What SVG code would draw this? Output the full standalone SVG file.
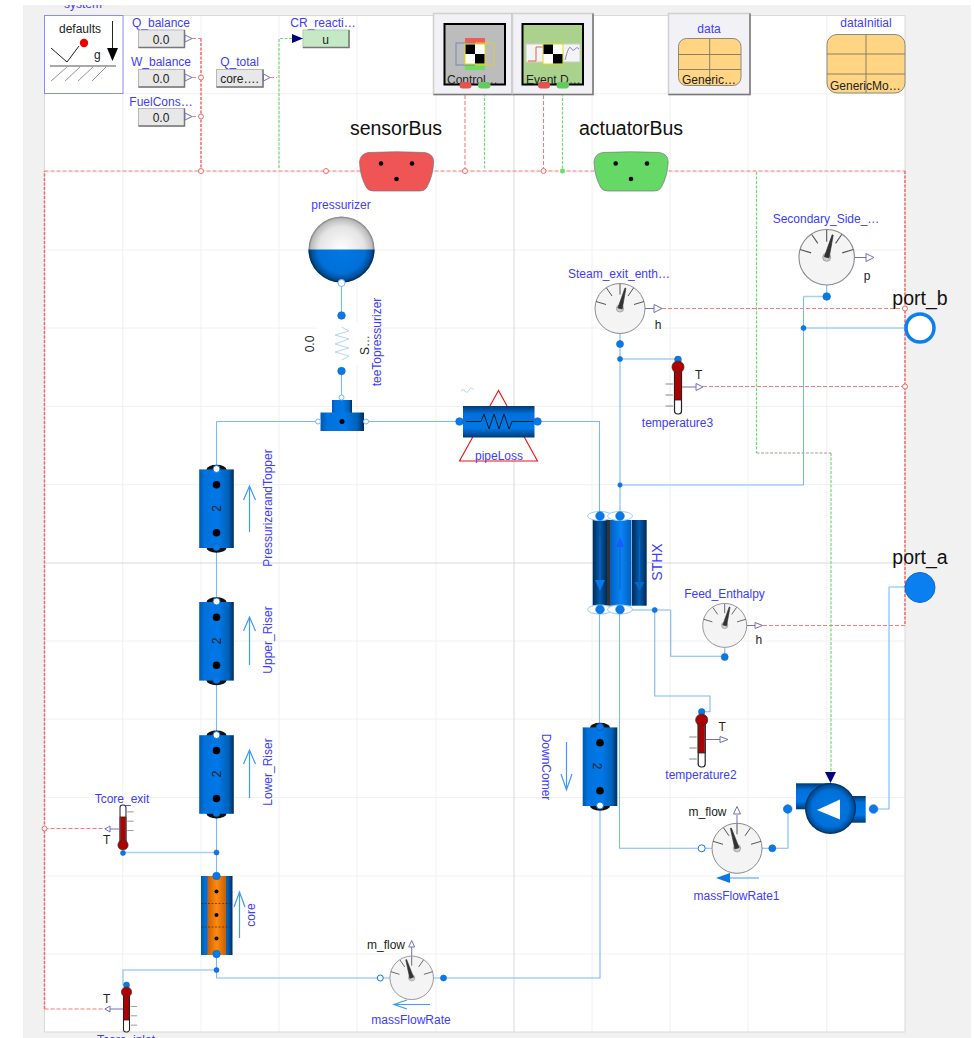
<svg xmlns="http://www.w3.org/2000/svg" xmlns:xlink="http://www.w3.org/1999/xlink" width="974" height="1038" viewBox="0 0 974 1038">
<style>
text{font-family:"Liberation Sans",Arial,sans-serif;font-size:12px;fill:#222}
.n{fill:#3c3cff;text-anchor:middle}
.m{text-anchor:middle}
.big{font-size:19.5px;fill:#111;text-anchor:middle}
.grid{stroke:#f0f0f0;stroke-width:1;fill:none}
.gridd{stroke:#d9d9d9;stroke-width:1;fill:none}
.w{stroke:#7cb8f8;stroke-width:1.1;fill:none}
.wt{stroke:#a6d0fa;stroke-width:1.6;fill:none}
.r{stroke:#f47c7c;stroke-width:1.1;stroke-dasharray:4 2;fill:none}
.rb{stroke:#f26a6a;stroke-width:1.5;stroke-dasharray:3 1.5;fill:none}
.g{stroke:#6fdc6f;stroke-width:1.2;stroke-dasharray:3 1.5;fill:none}
.rc{fill:#fff;stroke:#f26a6a;stroke-width:1}
.pb{fill:#0a78e6;stroke:#0a68c8;stroke-width:.6}
.pw{fill:#fff;stroke:#0a78e6;stroke-width:1}
.sig{stroke:#7070b8;stroke-width:1;fill:none}
.tri{fill:#fff;stroke:#7070b8;stroke-width:1}
.box{fill:#e8e8e8;stroke:#b8b8b8;stroke-width:1}
.sh{fill:none;stroke:#777;stroke-width:1.5}
.frame{fill:#f1f1f6;stroke:#d0d0d0;stroke-width:1.5}
.flow{stroke:#3f9bf5;stroke-width:1.2;fill:none}
.tbl{fill:#ffd583;stroke:#8a8a80;stroke-width:1}
.tline{stroke:#8a7f68;stroke-width:1;fill:none}
</style>
<defs>
<linearGradient id="pipeG" x1="0" x2="1" y1="0" y2="0"><stop offset="0" stop-color="#0058ac"/><stop offset=".15" stop-color="#0072dc"/><stop offset=".55" stop-color="#0078e8"/><stop offset=".85" stop-color="#0060b8"/><stop offset="1" stop-color="#002c5c"/></linearGradient>
<linearGradient id="horG" x1="0" x2="0" y1="0" y2="1"><stop offset="0" stop-color="#003a74"/><stop offset=".25" stop-color="#0070dc"/><stop offset=".7" stop-color="#0078e8"/><stop offset="1" stop-color="#003a74"/></linearGradient>
<linearGradient id="darkG" x1="0" x2="1" y1="0" y2="0"><stop offset="0" stop-color="#002a55"/><stop offset=".5" stop-color="#005cb0"/><stop offset="1" stop-color="#002a55"/></linearGradient>
<linearGradient id="midG" x1="0" x2="1" y1="0" y2="0"><stop offset="0" stop-color="#0060c0"/><stop offset=".5" stop-color="#0a84f5"/><stop offset="1" stop-color="#0060c0"/></linearGradient>
<linearGradient id="orG" x1="0" x2="1" y1="0" y2="0"><stop offset="0" stop-color="#c86000"/><stop offset=".5" stop-color="#ff8a10"/><stop offset="1" stop-color="#c86000"/></linearGradient>
<radialGradient id="topG" cx=".5" cy=".5" r=".5"><stop offset="0" stop-color="#fff"/><stop offset=".7" stop-color="#e4e4e4"/><stop offset=".93" stop-color="#bbb"/><stop offset="1" stop-color="#777"/></radialGradient>
<radialGradient id="botG" cx=".5" cy=".5" r=".5"><stop offset="0" stop-color="#0078e4"/><stop offset=".72" stop-color="#0070d8"/><stop offset=".92" stop-color="#004c94"/><stop offset="1" stop-color="#00284f"/></radialGradient>
<clipPath id="lowerHalf"><rect x="300" y="249.500" width="84" height="40"/></clipPath>
<g id="pipe">
<ellipse cx="0" cy="-39" rx="10" ry="5" fill="#111"/>
<ellipse cx="0" cy="39" rx="10" ry="5" fill="#111"/>
<rect x="-17.3" y="-39.3" width="34.6" height="78.6" fill="url(#pipeG)"/>
<circle cx="0" cy="-24" r="3.8" fill="#000"/>
<circle cx="0" cy="24" r="3.8" fill="#000"/>
</g>
<g id="gauge">
<circle r="25" fill="#f4f4f4" stroke="#8a8a8a" stroke-width="1"/>
<g stroke="#555" stroke-width="1"><path d="M0-24.5V-14M-13.5-20.5L-8-12.5M13.5-20.5L8-12.5M-24-7L-14-4M24-7L14-4"/></g>
<circle r="3.6" fill="#cfcfcf" stroke="#999" stroke-width=".8"/>
</g>
<path id="needle" d="M-2.2 0L-.5-21H.5L2.2 0Z" fill="#333" stroke="#333" stroke-width=".6" stroke-linejoin="round"/>
<g id="thermo">
<rect x="-3.5" y="0" width="7" height="47" rx="3" fill="#fff" stroke="#222" stroke-width="1.2"/>
<rect x="-3" y="0" width="6" height="33" fill="#b00000"/>
<path d="M-3.5 0V33M3.5 0V33M-3.5 33H3.5" stroke="#222" stroke-width=".8" fill="none"/>
<circle r="6" fill="#b00000" stroke="#333" stroke-width=".8"/>
<path d="M-12.5 17H-5M-12.5 28H-5M-12.5 39H-5" stroke="#888" stroke-width="1" fill="none"/>
</g>
<path id="bus" d="M368 152.5Q397 151 425 152.5Q433.7 154 433.7 162Q433 176 427 187Q425 191 420 191L373 191Q368 191 366 187Q360 176 359.5 162Q360 154 368 152.5Z"/>
<g id="check">
<rect x="0" y="0" width="20" height="20" fill="#fff" stroke="#e6dc00" stroke-width="1"/>
<rect x=".5" y=".5" width="9.5" height="9.5" fill="#000"/>
<rect x="10" y="10" width="9.5" height="9.5" fill="#000"/>
</g>
</defs>

<rect width="974" height="1038" fill="#fff"/>
<rect x="23" y="5" width="948" height="1033" fill="#f1f1f1"/>
<rect x="44.5" y="15.5" width="860.5" height="1016.5" fill="#fff"/>
<text class="n" x="83" y="8">system</text>
<rect x="0" y="0" width="974" height="5" fill="#fff"/>

<g id="grid">
<path class="grid" d="M122.8 15V1032M201 15V1032M279 15V1032M357 15V1032M436 15V1032M592 15V1032M670 15V1032M748 15V1032M826.8 15V1032M45 93.7H905M45 171.9H905M45 250H905M45 328H905M45 406.5H905M45 484.7H905M45 641H905M45 719H905M45 797.6H905M45 876H905M45 954H905"/>
<path class="gridd" d="M44.5 15.5H905V1032H44.5ZM514 15V1032M45 563H905"/>
</g>

<g id="connectors">
<path class="r" d="M44.5 828.500H106M44.5 1009H106M192 38.500H201M192 77.500H201M192 116.500H201M270 77.500H277M465 89V171M543.500 89V171M662 308.500H905M703 386.500H905M763 625.500H905M44.5 171H905"/>
<path class="rb" d="M44.5 1009V171M201 38.500V171M905 171V625.500"/>
<path class="g" d="M279 168V38.500H292M484.500 89V169M562.500 89V171M756.500 172V453M831 453V772"/>
<path d="M756.500 453H831" fill="none" stroke="#9aa08a" stroke-width="1" stroke-dasharray="3 1.5"/>
<path class="w" d="M341.500 283V315M341.500 371V397M216.500 421.500V470M216.500 547V602M216.500 680V735M216.500 813V876M216.500 421.500H318M366 421.500H459M537.500 421.500H599.500V515M620 334V516M599.500 610V727M600 806V978H380M380 978H216.500V954M619.500 610V848.300H737M803.500 485V296.500M620 485H803.500M803.500 328H905M654.700 610V696H710V711.700H701.700M670.700 610V656.300H724.700V640M889 587H905M889 587V809H873.500M737 848.300H788V809M826.700 285V296.500"/>
<path class="wt" d="M620 359H678M620 610H670.700M216.500 970H123V985M123 852.500H216.500M803.500 296.500H826.700"/>
<g class="pb"><circle cx="620" cy="359" r="2.500"/><circle cx="620" cy="485" r="2.200"/><circle cx="803.500" cy="328" r="2.500"/><circle cx="654.700" cy="610" r="2.500"/><circle cx="216.500" cy="852.500" r="2.500"/><circle cx="216.500" cy="970" r="2.500"/></g>
<g class="rc"><circle cx="201" cy="77.500" r="2.500"/><circle cx="201" cy="116.500" r="2.500"/><circle cx="201" cy="171" r="2.500"/><circle cx="326" cy="171" r="2.500"/><circle cx="465" cy="171" r="2.500"/><circle cx="543.500" cy="171" r="2.500"/><circle cx="44.5" cy="828.500" r="2.500"/><circle cx="905" cy="308.500" r="2.500"/><circle cx="905" cy="386.500" r="2.500"/></g>
<circle cx="562.500" cy="171" r="2.500" fill="#6fdc6f"/>
</g>

<g id="system">
<rect x="44.5" y="15.5" width="78.5" height="78" fill="#fff" stroke="#8a8aff" stroke-width="1"/>
<text class="m" x="80" y="33">defaults</text>
<path d="M51 48L67 62L79 46" fill="none" stroke="#222" stroke-width="1"/>
<circle cx="84" cy="43" r="4.200" fill="#f00000"/>
<text x="94" y="59">g</text>
<path d="M112.500 21V49" stroke="#222" stroke-width="1"/>
<path d="M107 48H118L112.500 61Z" fill="#000"/>
<path d="M50 66H116" stroke="#a8a8a8" stroke-width="2"/>
<path d="M67 67L51 81M80 67L65 81M93 67L78 81M106 67L92 81" stroke="#777" stroke-width=".8"/>
</g>

<g id="Q_balance"><text class="n" x="161" y="27">Q_balance</text><rect class="box" x="138.500" y="30" width="46" height="17.500"/><path class="sh" d="M184.500 30V47.500H138.500"/><text class="m" x="161" y="43.500">0.0</text><path class="tri" d="M185 35L192 38.500L185 42Z"/></g>
<g id="W_balance"><text class="n" x="161" y="66">W_balance</text><rect class="box" x="138.500" y="69.500" width="46" height="17.500"/><path class="sh" d="M184.500 69.500V87H138.500"/><text class="m" x="161" y="82.500">0.0</text><path class="tri" d="M185 74L192 77.500L185 81Z"/></g>
<g id="FuelCons"><text class="n" x="161" y="105.500">FuelCons…</text><rect class="box" x="138.500" y="108.500" width="46" height="17.500"/><path class="sh" d="M184.500 108.500V126H138.500"/><text class="m" x="161" y="121.500">0.0</text><path class="tri" d="M185 113L192 116.500L185 120Z"/></g>
<g id="Q_total"><text class="n" x="239.500" y="66">Q_total</text><rect class="box" x="216.500" y="69.500" width="46.500" height="17.500"/><path class="sh" d="M263 69.500V87H216.500"/><text class="m" x="239.500" y="82.500">core….</text><path class="tri" d="M263.500 74L270 77.500L263.500 81Z"/></g>
<g id="CR_reactivity"><text class="n" x="323" y="27">CR_reacti…</text><rect x="303" y="30" width="46" height="17.500" fill="#c5e8c5" stroke="#b0c8b0"/><path class="sh" d="M349 30V47.500H303"/><text class="m" x="325.500" y="43.500">u</text><path d="M292 34L303 38.500L292 43Z" fill="#000080"/></g>

<g id="Control">
<rect class="frame" x="433.500" y="13.500" width="79" height="81"/>
<path class="sh" d="M512.500 13.500V94.500H433.500"/>
<rect x="444.500" y="24" width="60.500" height="60.500" fill="#bcbcbc" stroke="#000" stroke-width="2"/>
<rect x="465" y="38" width="20" height="10" fill="#f05a5a"/>
<rect x="465" y="62" width="20" height="8" fill="#70dd60"/>
<rect x="456" y="43" width="18" height="22" fill="none" stroke="#6c8cb0"/>
<rect x="476" y="43" width="18" height="22" fill="none" stroke="#d8cf40"/>
<use xlink:href="#check" href="#check" x="465" y="44"/>
<text x="447" y="84">Control…</text>
<rect x="459.500" y="82" width="12" height="6.500" rx="3" fill="#e85050"/>
<rect x="478" y="82" width="12.500" height="6.500" rx="3" fill="#60cc60"/>
</g>
<g id="EventDriven">
<rect class="frame" x="512.500" y="13.500" width="80.500" height="81"/>
<path class="sh" d="M593 13.500V94.500H512.500"/>
<rect x="522.500" y="24" width="60.500" height="60.500" fill="#aad28c" stroke="#000" stroke-width="2"/>
<rect x="526" y="44" width="54" height="18" fill="#f4f4f4" stroke="#ccc"/>
<path d="M528 61H536V47H543" stroke="#e06050" fill="none"/>
<path d="M565 60Q569 44 571 48T575 49T579 49" stroke="#8888e0" fill="none"/>
<use xlink:href="#check" href="#check" x="543" y="44"/>
<text x="526" y="84">Event D…</text>
<rect x="538" y="82" width="12" height="6.500" rx="3" fill="#e85050"/>
<rect x="556.500" y="82" width="12.500" height="6.500" rx="3" fill="#60cc60"/>
</g>
<g id="data">
<rect class="frame" x="668.500" y="13.500" width="81.500" height="81"/>
<path class="sh" d="M750 13.500V94.500H668.500"/>
<text class="n" x="709" y="33">data</text>
<rect class="tbl" x="678.500" y="38.500" width="62.500" height="47" rx="8"/>
<path class="tline" d="M709.700 38.500V85.500M678.500 54.500H741M678.500 69.500H741"/>
<text x="682" y="84">Generic…</text>
</g>
<g id="dataInitial">
<text class="n" x="866" y="27">dataInitial</text>
<rect class="tbl" x="827" y="34.500" width="78" height="58.500" rx="10"/>
<path class="tline" d="M866 34.500V93M827 54H905M827 74H905"/>
<text x="830" y="90">GenericMo…</text>
</g>

<g id="sensorBus"><text class="big" x="396" y="135">sensorBus</text>
<use xlink:href="#bus" href="#bus" fill="#f05555" stroke="#777" stroke-width=".7"/>
<circle cx="381" cy="163.500" r="2.300"/><circle cx="412" cy="163.500" r="2.300"/><circle cx="396.500" cy="179" r="2.300"/></g>
<g id="actuatorBus"><text class="big" x="631" y="135">actuatorBus</text>
<use xlink:href="#bus" href="#bus" x="234.500" fill="#66d866" stroke="#777" stroke-width=".7"/>
<circle cx="615.700" cy="163.500" r="2.300"/><circle cx="647" cy="163.500" r="2.300"/><circle cx="631" cy="179" r="2.300"/></g>

<g id="pressurizer">
<text class="n" x="341" y="208.500">pressurizer</text>
<circle cx="341.500" cy="249.500" r="33" fill="url(#topG)"/>
<circle cx="341.500" cy="249.500" r="33" fill="url(#botG)" clip-path="url(#lowerHalf)"/>
<circle class="pw" cx="341.500" cy="283" r="3.500" style="stroke:#7cb8f8"/>
</g>
<g id="teeTopressurizer">
<rect x="318" y="322" width="50" height="43" fill="#fff"/>
<path d="M341.500 327L349 331L335 335L349 339L335 344L349 348L335 352L349 356L341.500 360" fill="none" stroke="#b5d6f5" stroke-width="1"/>
<circle class="pb" cx="341.500" cy="315.500" r="3.800"/><circle class="pb" cx="341.500" cy="371" r="3.800"/>
<text class="m" transform="translate(314 344) rotate(-90)">0.0</text>
<text class="m" transform="translate(369 345) rotate(-90)">S…</text>
<text class="n" transform="translate(381 342) rotate(-90)">teeTopressurizer</text>
</g>
<g id="tee">
<rect x="332" y="400" width="20" height="13" fill="url(#pipeG)"/>
<rect x="320.500" y="412.500" width="43.500" height="18.500" fill="url(#pipeG)"/>
<circle cx="342" cy="421.500" r="2.500" fill="#000"/>
<g class="pw" style="stroke:#7cb8f8"><circle cx="341.500" cy="397.500" r="2.500"/><circle cx="318" cy="421.500" r="2.500"/><circle cx="366" cy="421.500" r="2.500"/></g>
</g>
<g id="pipeLoss">
<path d="M498.500 390.500L459.500 461H537.500Z" fill="#fff" stroke="#f01010" stroke-width="1.100"/>
<path d="M461 391Q463 388 465 391T469 390T474 390" fill="none" stroke="#b5d6f5"/>
<rect x="463" y="406" width="71.500" height="31.500" fill="url(#horG)"/>
<path d="M466 421.500H481L484 414L489 429L494 414L499 429L504 414L509 429L512 421.500H534" fill="none" stroke="#111" stroke-width=".9"/>
<circle class="pb" cx="459.500" cy="421.500" r="3.800"/><circle class="pb" cx="537.500" cy="421.500" r="3.800"/>
<text class="n" x="499" y="460">pipeLoss</text>
</g>

<g id="Steam_exit_enthalpy">
<text class="n" x="619" y="278">Steam_exit_enth…</text>
<use xlink:href="#gauge" href="#gauge" transform="translate(620 308.500)"/>
<use xlink:href="#needle" href="#needle" transform="translate(620 308.500) rotate(15)"/>
<path class="sig" d="M645 308.500H654"/><path class="tri" d="M654 304.500L662 308.500L654 312.500Z"/>
<text class="m" x="658" y="329">h</text>
<circle class="pb" cx="620" cy="344" r="3.500"/>
</g>
<g id="Secondary_Side">
<text class="n" x="826" y="223">Secondary_Side_…</text>
<use xlink:href="#gauge" href="#gauge" transform="translate(826.700 257.300) scale(1.110)"/>
<use xlink:href="#needle" href="#needle" transform="translate(826.700 257.300) rotate(15) scale(1.100)"/>
<path class="sig" d="M855 257.500H866"/><path class="tri" d="M866 253.500L874 257.500L866 261.500Z"/>
<text class="m" x="867" y="280">p</text>
<circle class="pb" cx="826.700" cy="296.500" r="3.800"/>
</g>
<g id="port_b">
<text class="big" x="920" y="305">port_b</text>
<circle cx="920" cy="328" r="14" fill="#fff" stroke="#0a80f0" stroke-width="3.500"/>
</g>
<g id="port_a">
<text class="big" x="920" y="564">port_a</text>
<circle cx="920" cy="587.500" r="15" fill="#0a80f0" stroke="#0a68c8" stroke-width="1"/>
</g>
<g id="temperature3">
<circle class="pb" cx="678" cy="359.500" r="3.400"/>
<use xlink:href="#thermo" href="#thermo" transform="translate(678 367)"/>
<path class="sig" d="M682 387H696"/><path class="tri" d="M696 383.500L703 387L696 390.500Z"/>
<text x="695" y="379">T</text>
<text class="n" x="677.500" y="427">temperature3</text>
</g>
<g id="temperature2">
<circle class="pb" cx="701.700" cy="711.700" r="3.200"/>
<use xlink:href="#thermo" href="#thermo" transform="translate(701.700 720)"/>
<path class="sig" d="M706 739.500H720"/><path class="tri" d="M720 736.500L728 739.500L720 742.500Z"/>
<text x="718.500" y="731">T</text>
<text class="n" x="701" y="779">temperature2</text>
</g>

<g id="PressurizerandTopper">
<use xlink:href="#pipe" href="#pipe" x="216.500" y="508.700"/>
<circle class="pw" cx="216.500" cy="469" r="3.500"/><circle class="pb" cx="216.500" cy="547" r="3.500"/>
<text class="m" transform="translate(221 508.500) rotate(-90)">2</text>
<path class="flow" d="M249.500 532V486M243.500 500L249.500 486L255.500 500"/>
<text class="n" transform="translate(272 508) rotate(-90)">PressurizerandTopper</text>
</g>
<g id="Upper_Riser">
<use xlink:href="#pipe" href="#pipe" x="216.500" y="641.300"/>
<circle class="pw" cx="216.500" cy="601.500" r="3.500"/><circle class="pb" cx="216.500" cy="680" r="3.500"/>
<text class="m" transform="translate(221 641) rotate(-90)">2</text>
<path class="flow" d="M249.500 665V617M243.500 631L249.500 617L255.500 631"/>
<text class="n" transform="translate(272 640) rotate(-90)">Upper_Riser</text>
</g>
<g id="Lower_Riser">
<use xlink:href="#pipe" href="#pipe" x="216.500" y="774.500"/>
<circle class="pw" cx="216.500" cy="735" r="3.500"/><circle class="pb" cx="216.500" cy="813" r="3.500"/>
<text class="m" transform="translate(221 774) rotate(-90)">2</text>
<path class="flow" d="M249.500 798V750M243.500 764L249.500 750L255.500 764"/>
<text class="n" transform="translate(272 772) rotate(-90)">Lower_Riser</text>
</g>
<g id="Tcore_exit">
<text class="n" x="122" y="803">Tcore_exit</text>
<use xlink:href="#thermo" href="#thermo" transform="translate(123 845) rotate(180) scale(.85)"/>
<path class="sig" d="M120 829H110"/><path class="tri" d="M110 826L105 829L110 832Z"/>
<text x="103" y="844">T</text>
<circle class="pb" cx="123" cy="853" r="2.500"/>
</g>
<g id="core">
<rect x="201" y="876" width="31.500" height="79" fill="url(#pipeG)"/>
<rect x="207.500" y="876" width="18.500" height="79" fill="url(#orG)"/>
<path d="M201 903.500H232.500M201 927H232.500" stroke="#552200" stroke-width=".7" stroke-dasharray="2 1.500"/>
<circle cx="216.500" cy="891.500" r="2"/><circle cx="216.500" cy="915" r="2"/><circle cx="216.500" cy="938.500" r="2"/>
<circle class="pb" cx="216.500" cy="876" r="3.800"/><circle class="pb" cx="216.500" cy="954" r="3.800"/>
<path class="flow" d="M239.500 938V892M234 907L239.500 892L245 907"/>
<text class="n" transform="translate(255 915) rotate(-90)">core</text>
</g>
<g id="Tcore_inlet">
<circle class="pb" cx="126.500" cy="985" r="3"/>
<use xlink:href="#thermo" href="#thermo" transform="translate(126.500 992) scale(-.85 .85)"/>
<path class="sig" d="M123 1009H110"/><path class="tri" d="M110 1006L105 1009L110 1012Z"/>
<text x="103" y="1003">T</text>
<text class="n" x="126" y="1044">Tcore_inlet</text>
</g>
<g id="massFlowRate">
<text class="m" x="386" y="949">m_flow</text>
<path class="sig" d="M411.700 956V947"/><path class="tri" d="M408.700 947L411.700 940.500L414.700 947Z"/>
<circle cx="411.700" cy="977.800" r="25" fill="#fff" opacity="0"/>
<use xlink:href="#gauge" href="#gauge" transform="translate(411.700 977.800) scale(.87)"/>
<use xlink:href="#needle" href="#needle" transform="translate(411.700 977.800) rotate(-17) scale(.9)"/>
<circle class="pw" cx="380.300" cy="978" r="3"/><circle class="pb" cx="443.500" cy="978" r="3"/>
<path class="flow" d="M430 1004.500H394M407 1000L394 1004.500L407 1009"/>
<text class="n" x="411" y="1024">massFlowRate</text>
</g>

<g id="STHX">
<rect x="592.700" y="520" width="14.300" height="85.700" fill="url(#darkG)"/>
<rect x="607" y="520" width="3" height="85.700" fill="#333"/>
<rect x="610" y="520" width="21.500" height="85.700" fill="url(#midG)"/>
<rect x="632" y="520" width="14.700" height="85.700" fill="url(#darkG)"/>
<path d="M600 537V585M620 547V590M639.500 537V585" stroke="#0a64c8" stroke-width="1"/>
<path d="M595 580H605L600 591Z" fill="#0a78e6"/><path d="M616 547H624L620 537Z" fill="#1a5aff"/><path d="M634.500 582H644.500L639.500 591Z" fill="#0a64c8"/>
<g fill="#fff" stroke="#9ccbfa"><ellipse cx="600" cy="516" rx="12.500" ry="4.500"/><ellipse cx="620" cy="516" rx="12.500" ry="4.500"/><ellipse cx="600" cy="609.500" rx="12.500" ry="4.500"/><ellipse cx="620" cy="609.500" rx="12.500" ry="4.500"/></g>
<circle class="pb" cx="600" cy="516" r="4.300"/><circle class="pb" cx="620" cy="516" r="4.300"/><circle class="pb" cx="600" cy="609.500" r="4.300"/><circle class="pb" cx="620" cy="609.500" r="4.300"/>
<text class="n" style="font-size:14px" transform="translate(662 562) rotate(-90)">STHX</text>
</g>
<g id="Feed_Enthalpy">
<text class="n" x="724.500" y="598">Feed_Enthalpy</text>
<use xlink:href="#gauge" href="#gauge" transform="translate(724.700 625.400) scale(.88)"/>
<use xlink:href="#needle" href="#needle" transform="translate(724.700 625.400) rotate(15) scale(.9)"/>
<path class="sig" d="M747 625.500H755"/><path class="tri" d="M755 622.500L762.500 625.500L755 628.500Z"/>
<text x="755.500" y="644">h</text>
<circle class="pb" cx="724.700" cy="657" r="3.500"/>
</g>
<g id="DownComer">
<use xlink:href="#pipe" href="#pipe" x="600" y="766.700"/>
<circle cx="600" cy="727" r="3.500" fill="#0a78e6" stroke="#0a60c0"/><circle class="pw" cx="600" cy="805.500" r="3.500"/>
<text class="m" transform="translate(593 766) rotate(90)">2</text>
<path class="flow" d="M566.500 742V790M561 774L566.500 790L572 774"/>
<text class="n" transform="translate(542 767) rotate(90)">DownComer</text>
</g>
<g id="massFlowRate1">
<text class="m" x="707.500" y="816">m_flow</text>
<path class="sig" d="M737 824V815"/><path class="tri" d="M733.500 814L737 806.500L740.500 814Z"/>
<use xlink:href="#gauge" href="#gauge" transform="translate(737 848.300)"/>
<use xlink:href="#needle" href="#needle" transform="translate(737 848.300) rotate(-17)"/>
<circle class="pw" cx="701.700" cy="848.300" r="3.500"/><circle class="pb" cx="772.300" cy="848.300" r="3.500"/>
<path class="flow" d="M759 878H726"/><path d="M716 878L730 873V883Z" fill="#0a78e6"/>
<text class="n" x="736.500" y="900">massFlowRate1</text>
</g>
<g id="pump">
<rect x="796" y="783.300" width="35" height="26" fill="url(#horG)"/>
<rect x="830" y="796" width="35.700" height="26.700" fill="url(#horG)"/>
<circle cx="830.500" cy="808.500" r="25.500" fill="url(#botG)"/>
<path d="M817 810L840 799.500V819.500Z" fill="#fff"/>
<path d="M825 772H836L830.500 783Z" fill="#000080"/>
<circle class="pb" cx="787.700" cy="809" r="4.300"/><circle class="pb" cx="873.500" cy="809" r="4.300"/>
</g>
</svg>
